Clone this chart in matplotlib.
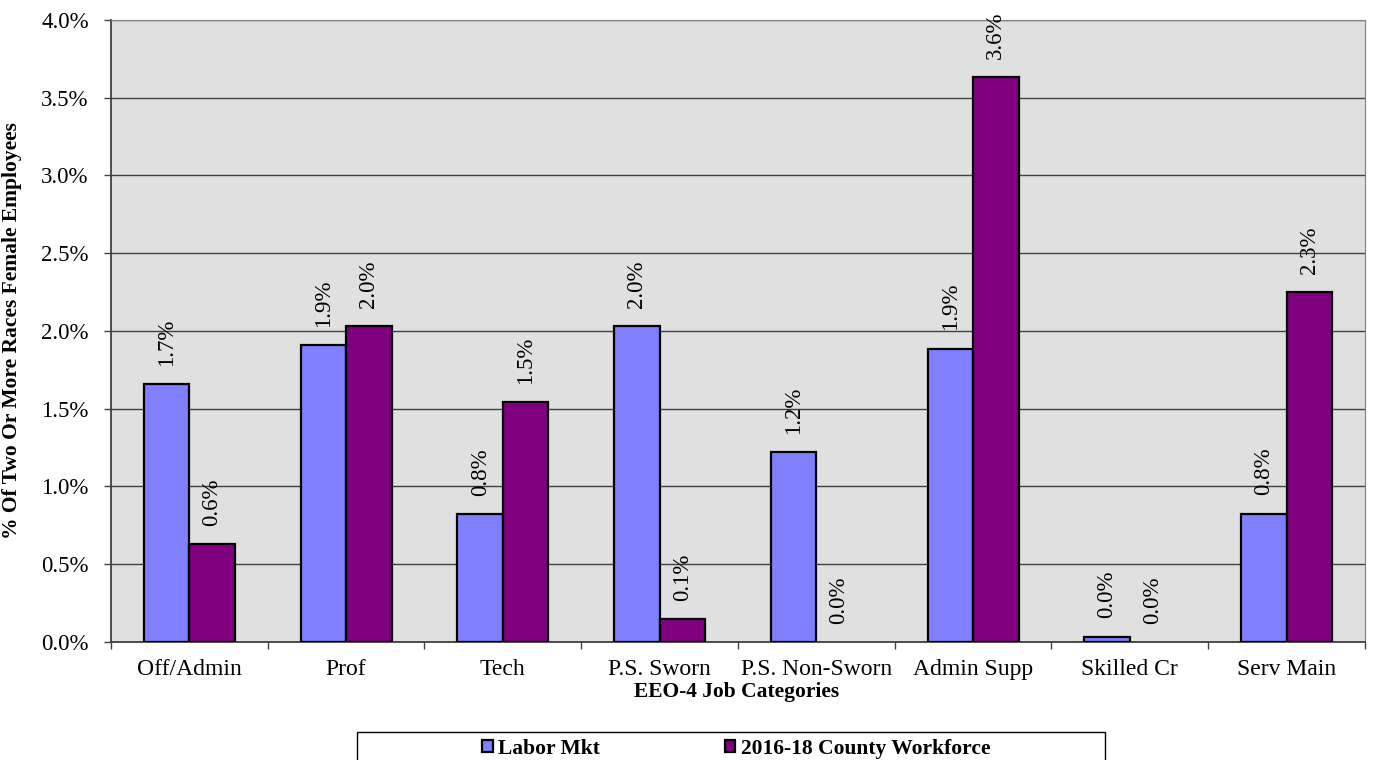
import numpy as np
import matplotlib.pyplot as plt
from matplotlib.patches import Rectangle
from matplotlib.ticker import FuncFormatter, FixedLocator

categories = ['Off/Admin', 'Prof', 'Tech', 'P.S. Sworn', 'P.S. Non-Sworn',
              'Admin Supp', 'Skilled Cr', 'Serv Main']
labor_mkt = [1.657, 1.91, 0.823, 2.034, 1.219, 1.887, 0.035, 0.826]
county_wf = [0.631, 2.03, 1.545, 0.146, 0.0, 3.635, 0.0, 2.252]
series_names = ['Labor Mkt', '2016-18 County Workforce']

plt.rcParams['font.family'] = ['Liberation Serif', 'DejaVu Serif']

fig = plt.figure(figsize=(13.74, 7.6), dpi=100)
ax = fig.add_axes([0.0808, 0.1553, 0.9126, 0.8184])
ax.set_facecolor('#E0E0E0')

x = np.arange(len(categories))
w = 0.29
b1 = ax.bar(x - w / 2, labor_mkt, w, color='#8080FF', edgecolor='black',
            linewidth=[1.6 if v > 0 else 0 for v in labor_mkt],
            label=series_names[0], zorder=3)
b2 = ax.bar(x + w / 2, county_wf, w, color='#800080', edgecolor='black',
            linewidth=[1.6 if v > 0 else 0 for v in county_wf],
            label=series_names[1], zorder=3)

# rotated value labels above each bar
for bars, vals in [(b1, labor_mkt), (b2, county_wf)]:
    for bar, v in zip(bars, vals):
        ax.annotate(f'{v:.1f}%', (bar.get_x() + bar.get_width() / 2, v),
                    xytext=(0, 13), textcoords='offset points',
                    rotation=90, ha='center', va='bottom', fontsize=16.5,
                    zorder=4)

ax.set_xlim(-0.5, len(categories) - 0.5)
ax.set_ylim(0, 4.0)
ax.set_yticks(np.arange(0, 4.01, 0.5))
ax.yaxis.set_major_formatter(FuncFormatter(lambda v, p: f'{v:.1f}%'))
ax.grid(axis='y', color='#404040', linewidth=1.0, zorder=1)

ax.set_xticks(x)
ax.set_xticklabels(categories, fontsize=17)
ax.xaxis.set_minor_locator(FixedLocator(np.arange(-0.5, len(categories), 1.0)))
ax.tick_params(axis='x', which='major', length=0, pad=12)
ax.tick_params(axis='x', which='minor', length=5, width=1, color='#404040')
ax.tick_params(axis='y', labelsize=16.5, length=5, width=1, color='#404040', pad=11)

for s in ['top', 'right']:
    ax.spines[s].set_color('#808080')
for s in ['left', 'bottom']:
    ax.spines[s].set_color('#404040')
    ax.spines[s].set_linewidth(1.3)

fig.text(737 / 1374, 1 - 692 / 760, 'EEO-4 Job Categories', fontsize=15.5,
         fontweight='bold', ha='center', va='center')
fig.text(12 / 1374, 1 - 331 / 760, '% Of Two Or More Races Female Employees',
         fontsize=15.5, fontweight='bold', ha='center', va='center', rotation=90)

# legend box (runs off the bottom edge, as in the original)
fig.patches.append(Rectangle((357 / 1374, -0.05), (1105 - 357) / 1374, 0.05 + (760 - 732) / 760,
                             transform=fig.transFigure, facecolor='white',
                             edgecolor='black', linewidth=1.0))
leg = fig.legend(loc='center left', bbox_to_anchor=(471 / 1374, 1 - 749 / 760),
                 ncol=2, frameon=False, prop={'weight': 'bold', 'size': 15.5},
                 borderpad=0, handlelength=0.5, handleheight=0.5,
                 handletextpad=0.25, columnspacing=5.8)

fig.savefig('out.png', dpi=100)
